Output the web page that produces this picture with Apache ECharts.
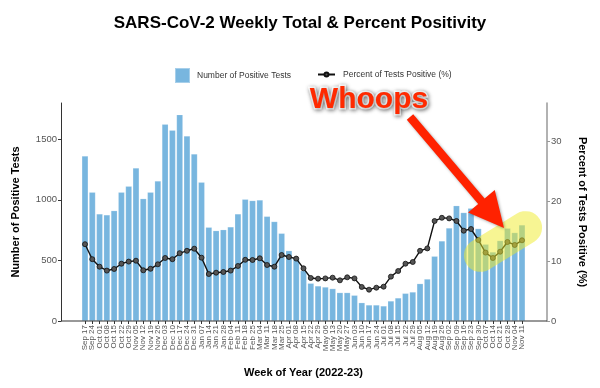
<!DOCTYPE html>
<html>
<head>
<meta charset="utf-8">
<script src="https://cdn.jsdelivr.net/npm/echarts@6/dist/echarts.min.js"></script>
<style>
html,body{margin:0;padding:0;background:#fff;}
#chart{width:600px;height:388px;}
</style>
</head>
<body>
<div id="chart"></div>
<script>
// ---- Data ----
const categories = ["Sep 17","Sep 24","Oct 01","Oct 08","Oct 15","Oct 22","Oct 29","Nov 05","Nov 12","Nov 19","Nov 26",
  "Dec 03","Dec 10","Dec 17","Dec 24","Dec 31","Jan 07","Jan 14","Jan 21","Jan 28","Feb 04","Feb 11","Feb 18","Feb 25",
  "Mar 04","Mar 11","Mar 18","Mar 25","Apr 01","Apr 08","Apr 15","Apr 22","Apr 29","May 06","May 13","May 20","May 27",
  "Jun 03","Jun 10","Jun 17","Jun 24","Jul 01","Jul 08","Jul 15","Jul 22","Jul 29","Aug 05","Aug 12","Aug 19","Aug 26",
  "Sep 02","Sep 09","Sep 16","Sep 23","Sep 30","Oct 07","Oct 14","Oct 21","Oct 28","Nov 04","Nov 11"];

const positiveTests = [1361,1062,883,875,910,1062,1111,1262,1009,1062,1155,1623,1573,1702,1526,1378,
  1144,773,745,753,776,883,1004,993,998,863,820,723,580,517,415,
  311,289,280,267,234,234,212,151,132,132,124,165,190,228,239,
  308,346,534,660,767,951,894,930,762,633,569,663,765,729,792];

const percentPositive = [12.8,10.3,9.05,8.4,8.67,9.55,9.9,10.05,8.45,8.7,9.45,10.5,10.3,11.3,11.7,12.05,
  10.55,7.83,8.05,8.17,8.4,9.17,10.2,10.17,10.45,9.33,9.05,11.0,10.67,10.4,8.78,
  7.17,7.05,7.1,7.22,6.78,7.28,7.1,5.67,5.22,5.55,5.72,7.39,8.33,9.55,9.83,
  11.7,12.1,16.67,17.2,17.1,16.67,15.05,15.33,13.5,11.4,10.5,11.55,13.17,12.67,13.45];

const leftTicks = [0, 500, 1000, 1500];
const rightTicks = [0, 10, 20, 30];

// ---- Layout ----
const FONT = "'Liberation Sans', Arial, Helvetica, sans-serif";
const panelL = 61, panelR = 547, panelT = 103, panelB = 321;
const firstC = 85, lastC = 522;
const step = (lastC - firstC) / (categories.length - 1);
const gridL = firstC - step / 2, gridR = lastC + step / 2;

// arrow polygon
function arrowPoints(sx, sy, tx, ty, w, hl, hw) {
  const dx = tx - sx, dy = ty - sy, len = Math.hypot(dx, dy);
  const ux = dx / len, uy = dy / len, nx = -uy, ny = ux;
  const bx = tx - ux * hl, by = ty - uy * hl;
  return [
    [sx + nx * w, sy + ny * w], [bx + nx * w, by + ny * w], [bx + nx * hw, by + ny * hw],
    [tx, ty], [bx - nx * hw, by - ny * hw], [bx - nx * w, by - ny * w], [sx - nx * w, sy - ny * w]
  ];
}

const chart = echarts.init(document.getElementById('chart'), null, {renderer: 'canvas'});
chart.setOption({
  backgroundColor: '#fff',
  animation: false,
  textStyle: {fontFamily: FONT},
  title: {
    text: 'SARS-CoV-2 Weekly Total & Percent Positivity',
    left: 'center', top: 10,
    textStyle: {fontSize: 17, fontWeight: 'bold', color: '#000', fontFamily: FONT}
  },
  legend: [
    {
      data: [{name: 'Number of Positive Tests', icon: 'rect'}],
      left: 169, top: 62, itemWidth: 15, itemHeight: 15,
      textStyle: {fontSize: 8.5, color: '#333', fontFamily: FONT, padding: [0, 0, 0, 2]},
      selectedMode: false
    },
    {
      data: [{name: 'Percent of Tests Positive (%)'}],
      left: 312, top: 65, itemWidth: 17, itemHeight: 5,
      textStyle: {fontSize: 8.5, color: '#333', fontFamily: FONT, padding: [0, 0, 0, 3]},
      selectedMode: false
    }
  ],
  grid: {left: gridL, right: 600 - gridR, top: panelT, bottom: 388 - panelB, containLabel: false},
  xAxis: {
    type: 'category',
    data: categories,
    boundaryGap: true,
    axisLine: {show: false},
    axisTick: {show: true, alignWithLabel: true, length: 3, lineStyle: {color: '#333'}},
    axisLabel: {rotate: 90, interval: 0, fontSize: 8, color: '#555', margin: 4, fontFamily: FONT},
    splitLine: {show: false},
    name: 'Week of Year (2022-23)',
    nameLocation: 'middle', nameGap: 46,
    nameTextStyle: {fontSize: 11, fontWeight: 'bold', color: '#000', fontFamily: FONT}
  },
  yAxis: [
    {
      type: 'value', position: 'left', offset: gridL - panelL,
      min: 0, max: 1798, interval: 500,
      axisLine: {show: true, lineStyle: {color: '#333', width: 1}},
      axisTick: {show: true, length: 3, lineStyle: {color: '#333'}, customValues: leftTicks},
      axisLabel: {fontSize: 9.5, color: '#555', margin: 4, fontFamily: FONT, customValues: leftTicks,
                  formatter: v => String(v)},
      splitLine: {show: false},
      name: 'Number of Positive Tests', nameLocation: 'middle', nameGap: 40, nameRotate: 90,
      nameTextStyle: {fontSize: 11, fontWeight: 'bold', color: '#000', fontFamily: FONT}
    },
    {
      type: 'value', position: 'right', offset: panelR - gridR,
      min: 0, max: 36.33, interval: 10,
      axisLine: {show: true, lineStyle: {color: '#999', width: 1.5}},
      axisTick: {show: true, length: 3, lineStyle: {color: '#999'}, customValues: rightTicks},
      axisLabel: {fontSize: 9.5, color: '#555', margin: 4, fontFamily: FONT, customValues: rightTicks,
                  formatter: v => String(v)},
      splitLine: {show: false},
      name: 'Percent of Tests Positive (%)', nameLocation: 'middle', nameGap: 30, nameRotate: -90,
      nameTextStyle: {fontSize: 11, fontWeight: 'bold', color: '#000', fontFamily: FONT}
    }
  ],
  series: [
    {
      name: 'Number of Positive Tests',
      type: 'bar',
      data: positiveTests,
      barCategoryGap: '13%',
      itemStyle: {color: '#78b6df', borderColor: 'rgba(255,255,255,0.35)', borderWidth: 0.5},
      z: 2
    },
    {
      name: 'Percent of Tests Positive (%)',
      type: 'line',
      yAxisIndex: 1,
      data: percentPositive,
      symbol: 'circle', symbolSize: 5,
      lineStyle: {color: '#111', width: 1.4},
      itemStyle: {color: '#555', borderColor: '#111', borderWidth: 0.8},
      z: 3
    }
  ],
  graphic: [
    {type: 'line', shape: {x1: panelL, y1: panelB, x2: panelR, y2: panelB},
     style: {stroke: '#333', lineWidth: 1}, z: 10},
    {type: 'rect', x: 503, y: 241.5, rotation: 31.5 * Math.PI / 180,
     shape: {x: -43, y: -16.5, width: 86, height: 33, r: 16.5},
     style: {fill: 'rgba(240,235,40,0.5)'}, z: 50},
    {type: 'polygon', shape: {points: arrowPoints(410, 117, 504, 228, 4.2, 35, 17.5)},
     style: {fill: '#ff2200', shadowBlur: 3, shadowColor: 'rgba(0,0,0,0.35)', shadowOffsetX: 1, shadowOffsetY: 1}, z: 60},
    {type: 'text', x: 369, y: 100, z: 70,
     style: {text: 'Whoops', fontSize: 30, fontWeight: 'bold', fontFamily: FONT,
       fill: '#ff2a00', stroke: '#fff', lineWidth: 3, align: 'center', verticalAlign: 'middle',
       textShadowBlur: 4, textShadowColor: 'rgba(0,0,0,0.45)', textShadowOffsetX: 1, textShadowOffsetY: 1}}
  ]
});
</script>
</body>
</html>
